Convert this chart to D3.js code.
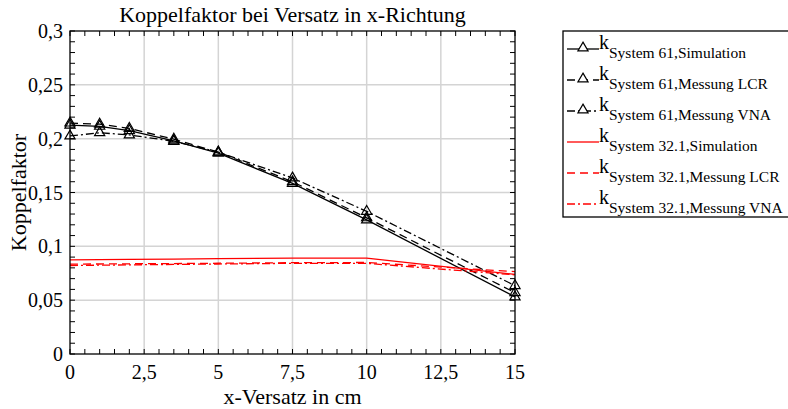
<!DOCTYPE html>
<html>
<head>
<meta charset="utf-8">
<script src="https://cdn.jsdelivr.net/npm/d3@7"></script>
<style>
  body { margin: 0; background: #fff; }
</style>
</head>
<body>
<div id="chart"></div>
<script>
// x positions of the measurements (cm)
const xValues = [0, 1, 2, 3.5, 5, 7.5, 10, 15];

// System 61 (black, with triangles)
const sim61 = [0.2125, 0.2115, 0.2075, 0.198, 0.1865, 0.1585, 0.1245, 0.053];
const lcr61 = [0.2145, 0.2135, 0.2095, 0.1995, 0.1875, 0.160, 0.1265, 0.057];
const vna61 = [0.2025, 0.2055, 0.2035, 0.1975, 0.1875, 0.1635, 0.1325, 0.0635];

// System 32.1 (red, no markers)
const sim32 = [0.0875, 0.0877, 0.0879, 0.0882, 0.0886, 0.0890, 0.0890, 0.0740];
const lcr32 = [0.0835, 0.0836, 0.0838, 0.0840, 0.0843, 0.0848, 0.0850, 0.0765];
const vna32 = [0.0822, 0.0825, 0.0828, 0.0832, 0.0836, 0.0842, 0.0842, 0.0735];

const xTicks = [0, 2.5, 5, 7.5, 10, 12.5, 15];
const yTicks = [0, 0.05, 0.1, 0.15, 0.2, 0.25, 0.3];
const fmt = d => String(d).replace(".", ",");

const series = [
  {sys: "System 61", kind: "Simulation", values: sim61, color: "#000", dash: null, marker: true},
  {sys: "System 61", kind: "Messung LCR", values: lcr61, color: "#000", dash: "8,5", marker: true},
  {sys: "System 61", kind: "Messung VNA", values: vna61, color: "#000", dash: "8,3,2,3", marker: true},
  {sys: "System 32.1", kind: "Simulation", values: sim32, color: "#ff0000", dash: null, marker: false},
  {sys: "System 32.1", kind: "Messung LCR", values: lcr32, color: "#ff0000", dash: "8,5", marker: false},
  {sys: "System 32.1", kind: "Messung VNA", values: vna32, color: "#ff0000", dash: "8,3,2,3", marker: false}
];

const width = 788, height = 409;
const margins = {top: 31, right: 273, bottom: 55, left: 70};

const svg = d3.select("#chart")
  .append("svg")
  .attr("width", width)
  .attr("height", height)
  .attr("font-family", "'Liberation Serif', 'Times New Roman', Times, serif");

const xScale = d3.scaleLinear()
  .domain([0, 15])
  .range([margins.left, width - margins.right]);

const yScale = d3.scaleLinear()
  .domain([0, 0.3])
  .range([height - margins.bottom, margins.top]);

const x0 = xScale.range()[0], x1 = xScale.range()[1];
const y0 = yScale.range()[0], y1 = yScale.range()[1];

// grid
svg.append("g")
  .selectAll("line")
  .data(xTicks.slice(1, -1))
  .join("line")
    .attr("x1", d => xScale(d)).attr("x2", d => xScale(d))
    .attr("y1", y0).attr("y2", y1)
    .attr("stroke", "#d4d4d4").attr("stroke-width", 1.5);
svg.append("g")
  .selectAll("line")
  .data(yTicks.slice(1, -1))
  .join("line")
    .attr("x1", x0).attr("x2", x1)
    .attr("y1", d => yScale(d)).attr("y2", d => yScale(d))
    .attr("stroke", "#d4d4d4").attr("stroke-width", 1.5);

// inward ticks on all four sides
const xMinor = d3.range(0, 15.001, 0.5);
const yMinor = d3.range(0, 0.3001, 0.01);
const tickLen = 5;
const ticks = svg.append("g").attr("stroke", "#000").attr("stroke-width", 1);
ticks.append("g").selectAll("line").data(xMinor).join("line")
  .attr("x1", d => xScale(d)).attr("x2", d => xScale(d))
  .attr("y1", y0).attr("y2", y0 - tickLen);
ticks.append("g").selectAll("line").data(xMinor).join("line")
  .attr("x1", d => xScale(d)).attr("x2", d => xScale(d))
  .attr("y1", y1).attr("y2", y1 + tickLen);
ticks.append("g").selectAll("line").data(yMinor).join("line")
  .attr("y1", d => yScale(d)).attr("y2", d => yScale(d))
  .attr("x1", x0).attr("x2", x0 + tickLen);
ticks.append("g").selectAll("line").data(yMinor).join("line")
  .attr("y1", d => yScale(d)).attr("y2", d => yScale(d))
  .attr("x1", x1).attr("x2", x1 - tickLen);

// tick labels
svg.append("g")
  .selectAll("text")
  .data(xTicks)
  .join("text")
    .attr("x", d => xScale(d))
    .attr("y", y0 + 25)
    .attr("text-anchor", "middle")
    .style("font-size", "20px")
    .text(fmt);
svg.append("g")
  .selectAll("text")
  .data(yTicks)
  .join("text")
    .attr("x", x0 - 7)
    .attr("y", d => yScale(d))
    .attr("dy", "0.35em")
    .attr("text-anchor", "end")
    .style("font-size", "20px")
    .text(fmt);

// lines
const line = d3.line()
  .x((d, i) => xScale(xValues[i]))
  .y(d => yScale(d));

series.forEach(s => {
  svg.append("path")
    .datum(s.values)
    .attr("d", line)
    .attr("fill", "none")
    .attr("stroke", s.color)
    .attr("stroke-width", 1.3)
    .attr("stroke-dasharray", s.dash);
});

// triangle markers
const tri = d3.symbol().type(d3.symbolTriangle).size(45);
series.filter(s => s.marker).forEach(s => {
  svg.append("g")
    .selectAll("path")
    .data(s.values)
    .join("path")
      .attr("transform", (d, i) => `translate(${xScale(xValues[i])},${yScale(d)})`)
      .attr("d", tri)
      .attr("fill", "none")
      .attr("stroke", "#000")
      .attr("stroke-width", 1.2);
});

// frame
svg.append("rect")
  .attr("x", x0).attr("y", y1)
  .attr("width", x1 - x0).attr("height", y0 - y1)
  .attr("fill", "none")
  .attr("stroke", "#000")
  .attr("stroke-width", 1.3);

// title and axis titles
svg.append("text")
  .attr("x", (x0 + x1) / 2).attr("y", 22)
  .attr("text-anchor", "middle")
  .style("font-size", "22px")
  .text("Koppelfaktor bei Versatz in x-Richtung");
svg.append("text")
  .attr("x", (x0 + x1) / 2).attr("y", 404)
  .attr("text-anchor", "middle")
  .style("font-size", "22px")
  .text("x-Versatz in cm");
svg.append("text")
  .attr("transform", `translate(26,${(y0 + y1) / 2}) rotate(-90)`)
  .attr("text-anchor", "middle")
  .style("font-size", "22px")
  .text("Koppelfaktor");

// legend
const lg = svg.append("g").attr("transform", "translate(563,31)");
lg.append("rect")
  .attr("x", 0).attr("y", 0)
  .attr("width", 240).attr("height", 186)
  .attr("fill", "#fff")
  .attr("stroke", "#000")
  .attr("stroke-width", 1.3);
const items = lg.selectAll("g")
  .data(series)
  .join("g")
    .attr("transform", (d, i) => `translate(0,${18 + i * 31})`);
items.append("line")
  .attr("x1", 4).attr("x2", 36)
  .attr("y1", 0).attr("y2", 0)
  .attr("stroke", d => d.color)
  .attr("stroke-width", 1.3)
  .attr("stroke-dasharray", d => d.dash);
items.filter(d => d.marker)
  .append("path")
    .attr("transform", "translate(20,-1)")
    .attr("d", tri)
    .attr("fill", "#fff")
    .attr("stroke", "#000")
    .attr("stroke-width", 1.2);
const lt = items.append("text")
  .attr("x", 36).attr("y", 0)
  .style("font-size", "20px");
lt.append("tspan").text("k");
lt.append("tspan")
  .attr("dy", 9)
  .style("font-size", "15.5px")
  .text(d => `${d.sys},${d.kind}`);
</script>
</body>
</html>
